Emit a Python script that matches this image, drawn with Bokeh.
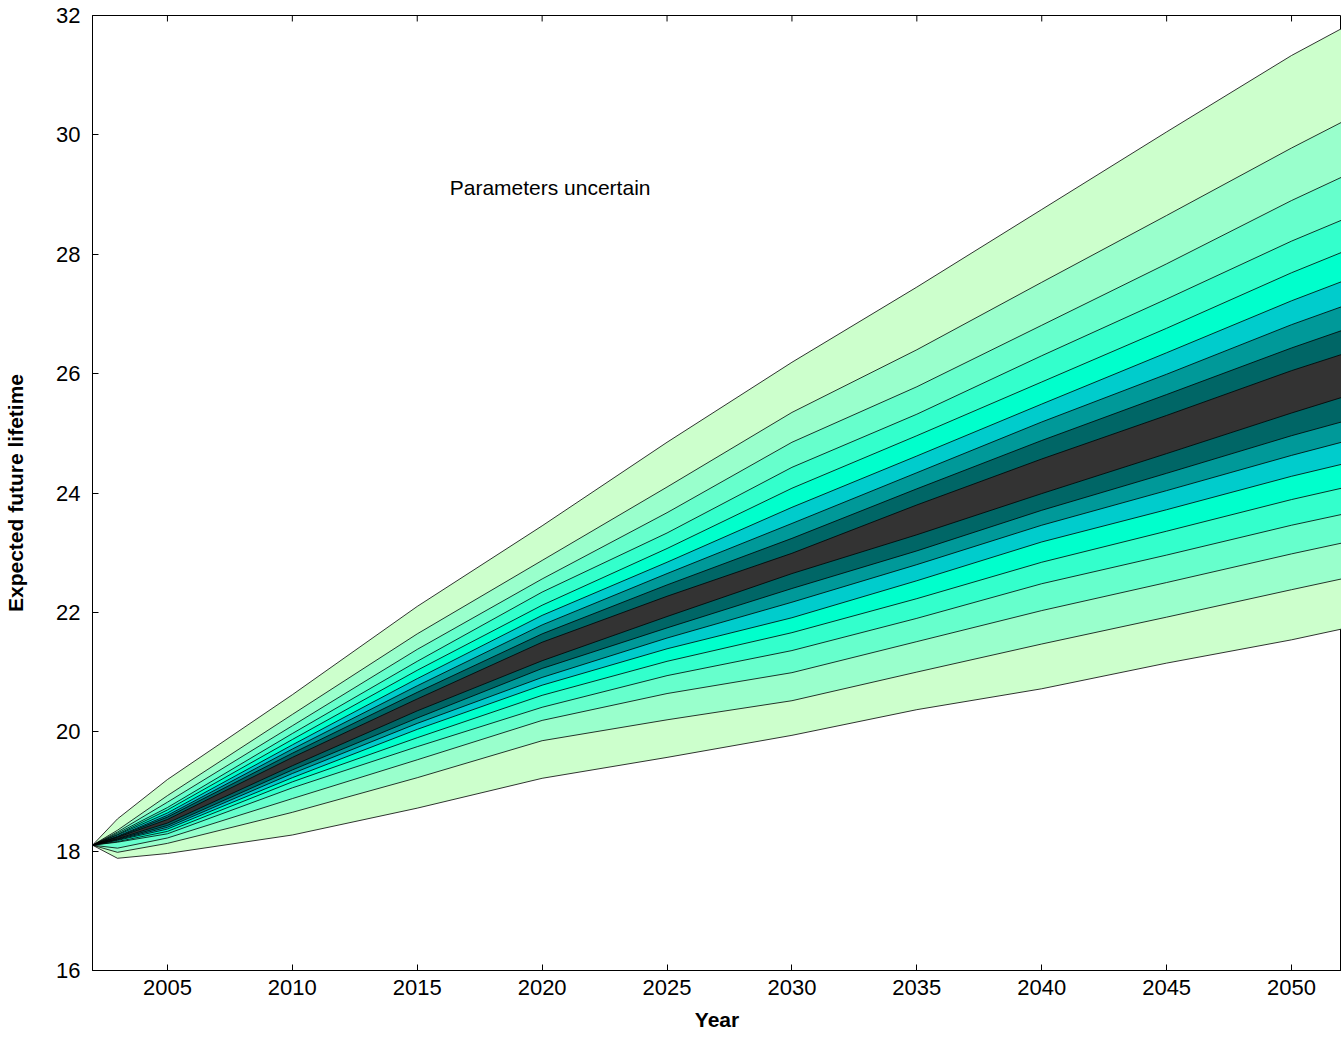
from bokeh.plotting import figure
from bokeh.models import FixedTicker, Range1d, Label
from bokeh.embed import file_html
from bokeh.resources import INLINE

years = [2002, 2003, 2005, 2010, 2015, 2020, 2025, 2030, 2035, 2040, 2045, 2050, 2052]

# Percentile lines of expected future lifetime (top = 95%, bottom = 5%)
p95 = [18.10, 18.54, 19.20, 20.62, 22.10, 23.45, 24.85, 26.19, 27.45, 28.75, 30.05, 31.33, 31.78]
p90 = [18.10, 18.35, 18.93, 20.29, 21.64, 22.87, 24.10, 25.35, 26.40, 27.53, 28.65, 29.78, 30.21]
p85 = [18.10, 18.32, 18.82, 20.10, 21.38, 22.56, 23.67, 24.85, 25.78, 26.81, 27.84, 28.90, 29.29]
p80 = [18.10, 18.30, 18.73, 19.97, 21.18, 22.34, 23.33, 24.43, 25.32, 26.30, 27.25, 28.22, 28.57]
p75 = [18.10, 18.28, 18.69, 19.87, 21.03, 22.12, 23.07, 24.08, 24.96, 25.86, 26.76, 27.69, 28.03]
p70 = [18.10, 18.27, 18.64, 19.78, 20.89, 21.95, 22.84, 23.76, 24.62, 25.49, 26.35, 27.22, 27.54]
p65 = [18.10, 18.25, 18.60, 19.71, 20.77, 21.79, 22.65, 23.49, 24.34, 25.19, 25.99, 26.82, 27.12]
p60 = [18.10, 18.24, 18.57, 19.64, 20.66, 21.64, 22.46, 23.24, 24.07, 24.88, 25.65, 26.43, 26.72]
p55 = [18.10, 18.23, 18.53, 19.57, 20.55, 21.50, 22.27, 22.99, 23.80, 24.57, 25.30, 26.05, 26.32]
p45 = [18.10, 18.21, 18.47, 19.43, 20.35, 21.19, 21.93, 22.65, 23.30, 23.99, 24.66, 25.34, 25.60]
p40 = [18.10, 18.20, 18.43, 19.36, 20.23, 21.06, 21.74, 22.40, 23.03, 23.71, 24.33, 24.96, 25.19]
p35 = [18.10, 18.19, 18.40, 19.30, 20.14, 20.91, 21.57, 22.17, 22.80, 23.46, 24.04, 24.63, 24.85]
p30 = [18.10, 18.18, 18.37, 19.23, 20.04, 20.78, 21.39, 21.91, 22.53, 23.18, 23.72, 24.28, 24.48]
p25 = [18.10, 18.16, 18.33, 19.16, 19.90, 20.61, 21.18, 21.66, 22.23, 22.84, 23.36, 23.89, 24.08]
p20 = [18.10, 18.15, 18.29, 19.06, 19.75, 20.41, 20.94, 21.36, 21.90, 22.48, 22.96, 23.46, 23.64]
p15 = [18.10, 18.05, 18.22, 18.88, 19.53, 20.19, 20.64, 20.99, 21.51, 22.03, 22.50, 22.98, 23.16]
p10 = [18.10, 17.98, 18.13, 18.65, 19.23, 19.85, 20.20, 20.52, 21.00, 21.47, 21.92, 22.38, 22.56]
p5 = [18.10, 17.88, 17.96, 18.27, 18.72, 19.22, 19.57, 19.94, 20.37, 20.72, 21.15, 21.54, 21.72]

lines = [p95, p90, p85, p80, p75, p70, p65, p60, p55,
         p45, p40, p35, p30, p25, p20, p15, p10, p5]

band_colors = ["#ccffcc", "#99ffcc", "#66ffcc", "#33ffcc", "#00ffcc",
               "#00cccc", "#009999", "#006666", "#333333"]

x_ticks = [2005, 2010, 2015, 2020, 2025, 2030, 2035, 2040, 2045, 2050]
y_ticks = [16, 18, 20, 22, 24, 26, 28, 30, 32]

FONT = "Liberation Sans"

p = figure(width=1341, height=1037, x_range=Range1d(2002, 2052), y_range=Range1d(16, 32),
           output_backend="svg", toolbar_location=None,
           min_border_left=92, min_border_right=0, min_border_top=15, min_border_bottom=67)
p.background_fill_color = "white"
p.border_fill_color = "white"
p.outline_line_color = "black"
p.outline_line_width = 1
p.xgrid.visible = False
p.ygrid.visible = False

n = len(lines)
for k in range(9):
    p.varea(x=years, y1=lines[n - 1 - k], y2=lines[k], fill_color=band_colors[k])
for ln in lines:
    p.line(x=years, y=ln, line_color="black", line_width=0.8)

# inward ticks along the top border, at the x tick positions
top = y_ticks[-1]
p.segment(x0=x_ticks, y0=[top] * len(x_ticks), x1=x_ticks, y1=[top - 0.1] * len(x_ticks),
          line_color="black", line_width=1)

for ax in (p.xaxis[0], p.yaxis[0]):
    ax.major_tick_in = 6
    ax.major_tick_out = 0
    ax.minor_tick_line_color = None
    ax.axis_line_color = "black"
    ax.major_tick_line_color = "black"
    ax.major_label_text_font = FONT
    ax.major_label_text_font_size = "22px"
    ax.major_label_text_color = "black"
    ax.axis_label_text_font = FONT
    ax.axis_label_text_font_style = "bold"
    ax.axis_label_text_color = "black"

p.xaxis[0].ticker = FixedTicker(ticks=x_ticks)
p.yaxis[0].ticker = FixedTicker(ticks=y_ticks)
p.xaxis[0].axis_label = "Year"
p.yaxis[0].axis_label = "Expected future lifetime"
p.xaxis[0].axis_label_text_font_size = "21px"
p.yaxis[0].axis_label_text_font_size = "21px"
p.xaxis[0].major_label_standoff = 9
p.yaxis[0].major_label_standoff = 12
p.xaxis[0].axis_label_standoff = 10
p.yaxis[0].axis_label_standoff = 26

p.add_layout(Label(x=2016.3, y=29.12, text="Parameters uncertain", text_font=FONT,
                   text_font_size="21px", text_baseline="middle", text_color="black"))

open("out.html", "w").write(file_html(p, INLINE))
